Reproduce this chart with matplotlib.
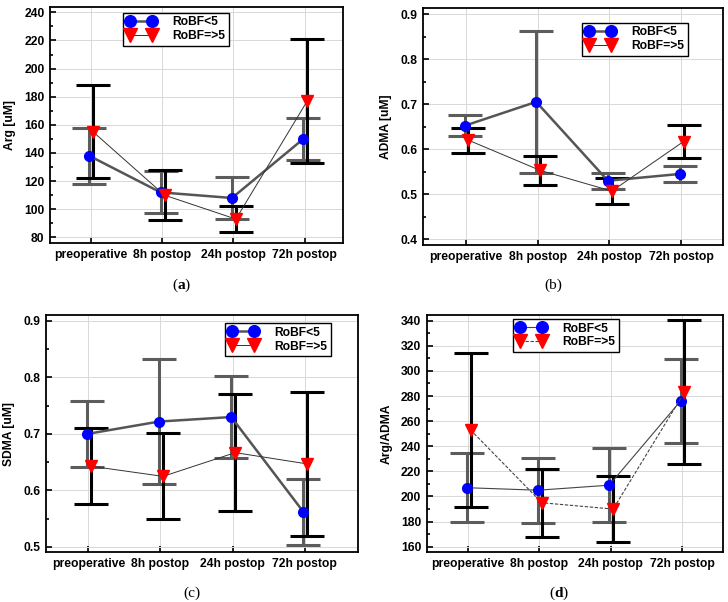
import numpy as np
import matplotlib
matplotlib.use('Agg')
import matplotlib.pyplot as plt
from matplotlib.ticker import MultipleLocator

plt.rcParams['font.family'] = ['Liberation Sans', 'DejaVu Sans']
plt.rcParams['font.weight'] = 'bold'
plt.rcParams['axes.labelweight'] = 'bold'
plt.rcParams['mathtext.fontset'] = 'custom'
plt.rcParams['mathtext.rm'] = 'Liberation Serif'
plt.rcParams['mathtext.bf'] = 'Liberation Serif:bold'

# categories
times = ['preoperative', '8h postop', '24h postop', '72h postop']

# (a) Arg
arg_low = [138, 112, 108, 150]
arg_low_err = [20, 15, 15, 15]
arg_high = [155, 110, 93, 177]
arg_high_err = [33, 18, 9, 44]

# (b) ADMA
adma_low = [0.652, 0.705, 0.530, 0.545]
adma_low_err = [0.023, 0.157, 0.018, 0.018]
adma_high = [0.620, 0.553, 0.507, 0.617]
adma_high_err = [0.028, 0.032, 0.029, 0.037]

# (c) SDMA
sdma_low = [0.700, 0.722, 0.730, 0.562]
sdma_low_err = [0.058, 0.110, 0.072, 0.058]
sdma_high = [0.643, 0.625, 0.667, 0.647]
sdma_high_err = [0.067, 0.076, 0.103, 0.127]

# (d) Arg/ADMA
ratio_low = [207, 205, 209, 276]
ratio_low_err = [27.5, 26, 29.5, 33.5]
ratio_high = [253, 195, 190, 283]
ratio_high_err = [61, 27, 26, 57.5]

W, H = 728, 602
fig = plt.figure(figsize=(W / 100, H / 100), dpi=100)
FS = 8.7


def box(l, t, r, b):
    return [l / W, 1 - b / H, (r - l) / W, (b - t) / H]


def panel(rect, low, low_err, high, high_err, ylabel, ylim, xlim, major, minor,
          leg_anchor, letter, letter_xy, thin=False):
    ax = fig.add_axes(box(*rect))
    x = np.arange(len(times))
    xb = x - 0.02
    xr = x + 0.035
    ax.errorbar(xb, low, yerr=low_err, fmt='none', ecolor='#5c5c5c',
                elinewidth=2.2, capsize=12.5, capthick=2.2, zorder=2)
    ax.errorbar(xr, high, yerr=high_err, fmt='none', ecolor='black',
                elinewidth=2.2, capsize=12.5, capthick=2.2, zorder=3)
    if thin:
        lb, = ax.plot(xb, low, '-', color='#444444', lw=0.8, marker='o',
                      ms=7, mfc='blue', mec='blue', zorder=5, label='RoBF<5')
        lr, = ax.plot(xr, high, color='#444444', lw=0.8, ls=(0, (3, 1.5)),
                      marker='v', ms=8.5, mfc='red', mec='red', zorder=6,
                      label='RoBF=>5')
    else:
        lb, = ax.plot(xb, low, '-', color='#555555', lw=1.8, marker='o',
                      ms=7, mfc='blue', mec='blue', zorder=5, label='RoBF<5')
        lr, = ax.plot(xr, high, '-', color='#333333', lw=0.7, marker='v',
                      ms=8.5, mfc='red', mec='red', zorder=6, label='RoBF=>5')
    ax.set_xlim(*xlim)
    ax.set_ylim(*ylim)
    ax.set_xticks(x)
    ax.set_xticklabels(times)
    ax.yaxis.set_major_locator(MultipleLocator(major))
    ax.yaxis.set_minor_locator(MultipleLocator(minor))
    ax.tick_params(axis='both', which='both', direction='in', labelsize=FS,
                   width=1.2)
    ax.tick_params(axis='both', which='major', length=4, pad=4)
    ax.tick_params(axis='y', which='minor', length=2.5)
    ax.tick_params(axis='x', which='minor', bottom=False)
    for s in ax.spines.values():
        s.set_linewidth(1.3)
    ax.grid(True, which='major', color='#d8d8d8', lw=0.7)
    ax.set_axisbelow(True)
    ax.set_ylabel(ylabel, fontsize=FS, labelpad=6)
    leg = ax.legend(handles=[lb, lr], loc='upper left', bbox_to_anchor=leg_anchor,
                    borderaxespad=0, numpoints=2, handlelength=2.4,
                    markerscale=1.2, fontsize=FS, fancybox=False, framealpha=1,
                    edgecolor='black', labelspacing=0.15, borderpad=0.3,
                    handletextpad=1.4)
    leg.get_frame().set_linewidth(1.0)
    fig.text(letter_xy[0] / W, 1 - letter_xy[1] / H, letter, ha='center',
             va='center', fontsize=11, family='Liberation Serif',
             fontweight='normal')
    return ax


panel((50, 6.7, 343.3, 243), arg_low, arg_low_err, arg_high, arg_high_err,
      'Arg [uM]', (76, 244), (-0.57, 3.54), 20, 10, (0.249, 0.975),
      r'($\mathbf{a}$)', (182, 285))
panel((423.3, 8.3, 723.3, 245), adma_low, adma_low_err, adma_high, adma_high_err,
      'ADMA [uM]', (0.3874, 0.9127), (-0.595, 3.59), 0.1, 0.05, (0.529, 0.939),
      '(b)', (553, 285))
panel((46, 315, 358.3, 552.3), sdma_low, sdma_low_err, sdma_high, sdma_high_err,
      'SDMA [uM]', (0.4906, 0.9106), (-0.586, 3.74), 0.1, 0.05, (0.573, 0.966),
      '(c)', (192, 593))
panel((426.7, 315, 723.3, 552), ratio_low, ratio_low_err, ratio_high, ratio_high_err,
      'Arg/ADMA', (155.8, 344.5), (-0.58, 3.58), 20, 10, (0.291, 0.983),
      r'($\mathbf{d}$)', (559, 593), thin=True)

fig.savefig('out.png', dpi=100)
